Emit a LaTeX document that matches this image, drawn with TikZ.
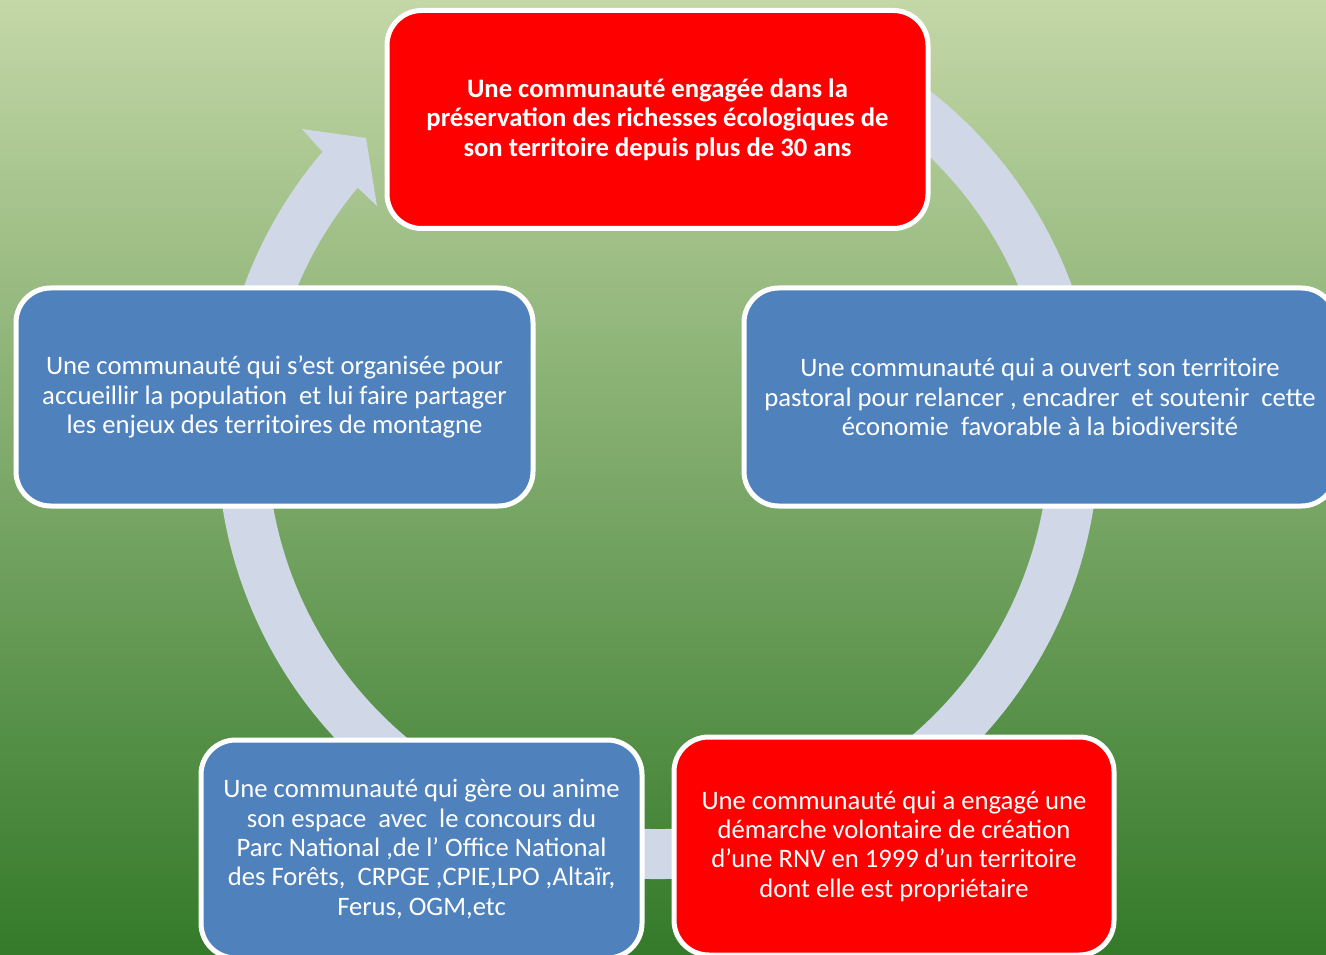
\documentclass[tikz,border=0pt]{standalone}
\usepackage{fontspec}
\setmainfont{Carlito}
\usetikzlibrary{calc}
\definecolor{anneau}{RGB}{208,216,232}
\definecolor{rouge}{RGB}{255,0,0}
\definecolor{bleu}{RGB}{79,129,189}
\definecolor{vertHaut}{RGB}{196,215,167}
\definecolor{vertMilieu}{RGB}{138,176,98}
\definecolor{vertBas}{RGB}{52,122,42}

\begin{document}
\begin{tikzpicture}[x=0.75pt,y=-0.75pt,
  boite/.style={draw=white,line width=3.75pt,rounded corners=26pt,text=white,align=center,inner sep=0pt,minimum height=218*0.75pt},
  rougeb/.style={boite,fill=rouge,font=\fontsize{20}{22}\selectfont\bfseries},
  bleub/.style={boite,fill=bleu,font=\fontsize{20}{22}\selectfont}]
\useasboundingbox (0,0) rectangle (1326,955);
\clip (0,0) rectangle (1326,955);
\shade[top color=vertHaut,middle color=vertMilieu,bottom color=vertBas] (0,0) rectangle (1326,955);

% anneau + fleche
\coordinate (hub) at (658,438);
\draw[anneau,line width=50*0.75pt] (hub) ++(-60:416) arc[start angle=-60,end angle=220.7,radius=416];
\fill[anneau] (320,149) -- (302,129) -- (366,138) -- (377,206) -- (357,187) -- cycle;

\node (A) at (657.5,119.5) [rougeb,minimum width=541*0.75pt] {Une communauté engagée dans la\\préservation des richesses écologiques de\\son territoire depuis plus de 30 ans};
\node (B) at (1040,397) [bleub,minimum width=592*0.75pt] {Une communauté qui a ouvert son territoire\\pastoral pour relancer , encadrer\ \ et soutenir\ \ cette\\économie\ \ favorable à la biodiversité};
\node (C) at (894,846) [rougeb,font=\fontsize{20}{22}\selectfont,minimum width=440*0.75pt] {Une communauté qui a engagé une\\démarche volontaire de création\\d’une RNV en 1999 d’un territoire\\dont elle est propriétaire};
\node (D) at (421.5,849) [bleub,minimum width=441*0.75pt] {Une communauté qui gère ou anime\\son espace\ \ avec\ \ le concours du\\Parc National ,de l’ Office National\\des Forêts,\ \ CRPGE ,CPIE,LPO ,Altaïr,\\Ferus, OGM,etc};
\node (E) at (274.5,397) [bleub,minimum width=517*0.75pt] {Une communauté qui s’est organisée pour\\accueillir la population\ \ et lui faire partager\\les enjeux des territoires de montagne};
\end{tikzpicture}
\end{document}
